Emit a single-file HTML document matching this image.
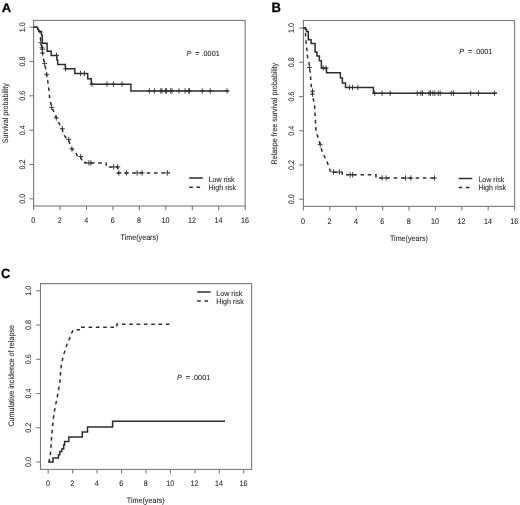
<!DOCTYPE html>
<html><head><meta charset="utf-8"><title>Survival curves</title>
<style>html,body{margin:0;padding:0;background:#fff;}svg{display:block;will-change:transform;}text{font-family:"Liberation Sans", sans-serif;text-rendering:geometricPrecision;}</style>
</head><body>
<svg width="520" height="505" viewBox="0 0 520 505" font-family='"Liberation Sans", sans-serif'>
<defs><filter id="bl" x="0" y="0" width="100%" height="100%"><feGaussianBlur stdDeviation="0.35"/></filter></defs>
<rect width="520" height="505" fill="#ffffff"/>
<g filter="url(#bl)">
<rect x="33.6" y="20.4" width="211.6" height="185.6" fill="none" stroke="#7a7a7a" stroke-width="1.1"/>
<line x1="33.6" y1="206" x2="33.6" y2="210.2" stroke="#7a7a7a" stroke-width="1.1"/>
<text font-size="8.0" text-anchor="middle" fill="#262626" stroke="#262626" stroke-width="0.08" transform="translate(33.3 223) scale(0.895 1)">0</text>
<line x1="60.05" y1="206" x2="60.05" y2="210.2" stroke="#7a7a7a" stroke-width="1.1"/>
<text font-size="8.0" text-anchor="middle" fill="#262626" stroke="#262626" stroke-width="0.08" transform="translate(59.75 223) scale(0.895 1)">2</text>
<line x1="86.5" y1="206" x2="86.5" y2="210.2" stroke="#7a7a7a" stroke-width="1.1"/>
<text font-size="8.0" text-anchor="middle" fill="#262626" stroke="#262626" stroke-width="0.08" transform="translate(86.2 223) scale(0.895 1)">4</text>
<line x1="112.95" y1="206" x2="112.95" y2="210.2" stroke="#7a7a7a" stroke-width="1.1"/>
<text font-size="8.0" text-anchor="middle" fill="#262626" stroke="#262626" stroke-width="0.08" transform="translate(112.65 223) scale(0.895 1)">6</text>
<line x1="139.4" y1="206" x2="139.4" y2="210.2" stroke="#7a7a7a" stroke-width="1.1"/>
<text font-size="8.0" text-anchor="middle" fill="#262626" stroke="#262626" stroke-width="0.08" transform="translate(139.1 223) scale(0.895 1)">8</text>
<line x1="165.85" y1="206" x2="165.85" y2="210.2" stroke="#7a7a7a" stroke-width="1.1"/>
<text font-size="8.0" text-anchor="middle" fill="#262626" stroke="#262626" stroke-width="0.08" transform="translate(165.55 223) scale(0.895 1)">10</text>
<line x1="192.3" y1="206" x2="192.3" y2="210.2" stroke="#7a7a7a" stroke-width="1.1"/>
<text font-size="8.0" text-anchor="middle" fill="#262626" stroke="#262626" stroke-width="0.08" transform="translate(192 223) scale(0.895 1)">12</text>
<line x1="218.75" y1="206" x2="218.75" y2="210.2" stroke="#7a7a7a" stroke-width="1.1"/>
<text font-size="8.0" text-anchor="middle" fill="#262626" stroke="#262626" stroke-width="0.08" transform="translate(218.45 223) scale(0.895 1)">14</text>
<line x1="245.2" y1="206" x2="245.2" y2="210.2" stroke="#7a7a7a" stroke-width="1.1"/>
<text font-size="8.0" text-anchor="middle" fill="#262626" stroke="#262626" stroke-width="0.08" transform="translate(244.9 223) scale(0.895 1)">16</text>
<line x1="29.4" y1="198.8" x2="33.6" y2="198.8" stroke="#7a7a7a" stroke-width="1.1"/>
<text font-size="8.0" text-anchor="middle" fill="#262626" stroke="#262626" stroke-width="0.08" transform="translate(25 198.8) rotate(-90) scale(0.895 1)">0.0</text>
<line x1="29.4" y1="164.48" x2="33.6" y2="164.48" stroke="#7a7a7a" stroke-width="1.1"/>
<text font-size="8.0" text-anchor="middle" fill="#262626" stroke="#262626" stroke-width="0.08" transform="translate(25 164.48) rotate(-90) scale(0.895 1)">0.2</text>
<line x1="29.4" y1="130.16" x2="33.6" y2="130.16" stroke="#7a7a7a" stroke-width="1.1"/>
<text font-size="8.0" text-anchor="middle" fill="#262626" stroke="#262626" stroke-width="0.08" transform="translate(25 130.16) rotate(-90) scale(0.895 1)">0.4</text>
<line x1="29.4" y1="95.84" x2="33.6" y2="95.84" stroke="#7a7a7a" stroke-width="1.1"/>
<text font-size="8.0" text-anchor="middle" fill="#262626" stroke="#262626" stroke-width="0.08" transform="translate(25 95.84) rotate(-90) scale(0.895 1)">0.6</text>
<line x1="29.4" y1="61.52" x2="33.6" y2="61.52" stroke="#7a7a7a" stroke-width="1.1"/>
<text font-size="8.0" text-anchor="middle" fill="#262626" stroke="#262626" stroke-width="0.08" transform="translate(25 61.52) rotate(-90) scale(0.895 1)">0.8</text>
<line x1="29.4" y1="27.2" x2="33.6" y2="27.2" stroke="#7a7a7a" stroke-width="1.1"/>
<text font-size="8.0" text-anchor="middle" fill="#262626" stroke="#262626" stroke-width="0.08" transform="translate(25 27.2) rotate(-90) scale(0.895 1)">1.0</text>
<text font-size="8.0" text-anchor="middle" fill="#262626" stroke="#262626" stroke-width="0.08" transform="translate(8 113.2) rotate(-90) scale(0.895 1)">Survival probability</text>
<text font-size="8.0" text-anchor="middle" fill="#262626" stroke="#262626" stroke-width="0.08" transform="translate(139.5 239.9) scale(0.895 1)">Time(years)</text>
<polyline points="33.6,27.2 37.6,27.2 37.6,29.2 38.6,29.2 38.6,31.4 41.5,31.4 41.5,35.3 42.3,35.3 42.3,43.2 47.1,43.2 47.1,51.3 51.2,51.3 51.2,55.4 56.9,55.4 56.9,60 57.7,60 57.7,64.4 65.4,64.4 65.4,68.8 74.8,68.8 74.8,73.5 87.7,73.5 87.7,78.8 91.2,78.8 91.2,84.2 130.9,84.2 130.9,90.9 228.8,90.9" fill="none" stroke="#2e2e2e" stroke-width="1.5" stroke-linejoin="miter" stroke-linecap="butt"/>
<path d="M56.5 52.7V58.1M54 55.4H59" stroke="#2e2e2e" stroke-width="0.9" fill="none"/>
<path d="M65.6 66.1V71.5M63.1 68.8H68.1" stroke="#2e2e2e" stroke-width="0.9" fill="none"/>
<path d="M80.6 70.8V76.2M78.1 73.5H83.1" stroke="#2e2e2e" stroke-width="0.9" fill="none"/>
<path d="M84.4 70.8V76.2M81.9 73.5H86.9" stroke="#2e2e2e" stroke-width="0.9" fill="none"/>
<path d="M92 81.5V86.9M89.5 84.2H94.5" stroke="#2e2e2e" stroke-width="0.9" fill="none"/>
<path d="M106.9 81.5V86.9M104.4 84.2H109.4" stroke="#2e2e2e" stroke-width="0.9" fill="none"/>
<path d="M113.5 81.5V86.9M111 84.2H116" stroke="#2e2e2e" stroke-width="0.9" fill="none"/>
<path d="M122 81.5V86.9M119.5 84.2H124.5" stroke="#2e2e2e" stroke-width="0.9" fill="none"/>
<path d="M149.3 88.2V93.6M146.8 90.9H151.8" stroke="#2e2e2e" stroke-width="0.9" fill="none"/>
<path d="M154.4 88.2V93.6M151.9 90.9H156.9" stroke="#2e2e2e" stroke-width="0.9" fill="none"/>
<path d="M160.8 88.2V93.6M158.3 90.9H163.3" stroke="#2e2e2e" stroke-width="0.9" fill="none"/>
<path d="M162 88.2V93.6M159.5 90.9H164.5" stroke="#2e2e2e" stroke-width="0.9" fill="none"/>
<path d="M165.4 88.2V93.6M162.9 90.9H167.9" stroke="#2e2e2e" stroke-width="0.9" fill="none"/>
<path d="M166.5 88.2V93.6M164 90.9H169" stroke="#2e2e2e" stroke-width="0.9" fill="none"/>
<path d="M170.6 88.2V93.6M168.1 90.9H173.1" stroke="#2e2e2e" stroke-width="0.9" fill="none"/>
<path d="M172 88.2V93.6M169.5 90.9H174.5" stroke="#2e2e2e" stroke-width="0.9" fill="none"/>
<path d="M179 88.2V93.6M176.5 90.9H181.5" stroke="#2e2e2e" stroke-width="0.9" fill="none"/>
<path d="M185.1 88.2V93.6M182.6 90.9H187.6" stroke="#2e2e2e" stroke-width="0.9" fill="none"/>
<path d="M188.7 88.2V93.6M186.2 90.9H191.2" stroke="#2e2e2e" stroke-width="0.9" fill="none"/>
<path d="M189.5 88.2V93.6M187 90.9H192" stroke="#2e2e2e" stroke-width="0.9" fill="none"/>
<path d="M202.2 88.2V93.6M199.7 90.9H204.7" stroke="#2e2e2e" stroke-width="0.9" fill="none"/>
<path d="M210.2 88.2V93.6M207.7 90.9H212.7" stroke="#2e2e2e" stroke-width="0.9" fill="none"/>
<path d="M227 88.2V93.6M224.5 90.9H229.5" stroke="#2e2e2e" stroke-width="0.9" fill="none"/>
<polyline points="33.6,27.2 37.6,27.2 38.3,29.5 40,31.3 40.4,36 40.8,42.7 42.1,47.8 42.5,53 43.3,57.8 44.3,63.6 45.5,67.5 46.7,74.7 47.6,80 48.4,86 49.2,92 49.6,98 50.5,102 51.7,107.4 53.4,110.8 56.3,117.8 57.8,120.7 59.8,124.7 62.3,128.7 62.9,132 64.3,135.6 66.3,137.9 68.7,139.5 69.5,143 71.9,149 74.6,151.4 76.5,154 77.5,156.5 80.7,156.8 81.6,159.6 84.5,160.1 84.9,162.9 106.2,162.9 106.2,166.9 117.7,166.9 117.7,172.9 169.8,172.9" fill="none" stroke="#2e2e2e" stroke-width="1.5" stroke-dasharray="3.6 3.7" stroke-linejoin="miter" stroke-linecap="butt"/>
<path d="M40.8 40V45.4M38.3 42.7H43.3" stroke="#2e2e2e" stroke-width="0.9" fill="none"/>
<path d="M42.1 45.1V50.5M39.6 47.8H44.6" stroke="#2e2e2e" stroke-width="0.9" fill="none"/>
<path d="M42.5 46.5V51.9M40 49.2H45" stroke="#2e2e2e" stroke-width="0.9" fill="none"/>
<path d="M42.4 50.3V55.7M39.9 53H44.9" stroke="#2e2e2e" stroke-width="0.9" fill="none"/>
<path d="M44.6 60.9V66.3M42.1 63.6H47.1" stroke="#2e2e2e" stroke-width="0.9" fill="none"/>
<path d="M46.7 72V77.4M44.2 74.7H49.2" stroke="#2e2e2e" stroke-width="0.9" fill="none"/>
<path d="M51.7 104.7V110.1M49.2 107.4H54.2" stroke="#2e2e2e" stroke-width="0.9" fill="none"/>
<path d="M56.3 115.1V120.5M53.8 117.8H58.8" stroke="#2e2e2e" stroke-width="0.9" fill="none"/>
<path d="M62.3 126V131.4M59.8 128.7H64.8" stroke="#2e2e2e" stroke-width="0.9" fill="none"/>
<path d="M68.7 136.8V142.2M66.2 139.5H71.2" stroke="#2e2e2e" stroke-width="0.9" fill="none"/>
<path d="M71.9 146.3V151.7M69.4 149H74.4" stroke="#2e2e2e" stroke-width="0.9" fill="none"/>
<path d="M80.7 153.8V159.2M78.2 156.5H83.2" stroke="#2e2e2e" stroke-width="0.9" fill="none"/>
<path d="M88.9 160.2V165.6M86.4 162.9H91.4" stroke="#2e2e2e" stroke-width="0.9" fill="none"/>
<path d="M90.9 160.2V165.6M88.4 162.9H93.4" stroke="#2e2e2e" stroke-width="0.9" fill="none"/>
<path d="M113.7 164.2V169.6M111.2 166.9H116.2" stroke="#2e2e2e" stroke-width="0.9" fill="none"/>
<path d="M117.7 164.2V169.6M115.2 166.9H120.2" stroke="#2e2e2e" stroke-width="0.9" fill="none"/>
<path d="M118.8 170.2V175.6M116.3 172.9H121.3" stroke="#2e2e2e" stroke-width="0.9" fill="none"/>
<path d="M126.5 170.2V175.6M124 172.9H129" stroke="#2e2e2e" stroke-width="0.9" fill="none"/>
<path d="M137.1 170.2V175.6M134.6 172.9H139.6" stroke="#2e2e2e" stroke-width="0.9" fill="none"/>
<path d="M142.1 170.2V175.6M139.6 172.9H144.6" stroke="#2e2e2e" stroke-width="0.9" fill="none"/>
<path d="M167.4 170.2V175.6M164.9 172.9H169.9" stroke="#2e2e2e" stroke-width="0.9" fill="none"/>
<polyline points="189.2,178 202.8,178" fill="none" stroke="#2e2e2e" stroke-width="1.5" stroke-linejoin="miter" stroke-linecap="butt"/>
<polyline points="189.2,187.2 202.8,187.2" fill="none" stroke="#2e2e2e" stroke-width="1.5" stroke-dasharray="3.6 3.7" stroke-linejoin="miter" stroke-linecap="butt"/>
<text font-size="7.5" text-anchor="start" fill="#262626" stroke="#262626" stroke-width="0.08" transform="translate(208.6 181.5) scale(0.945 1)">Low risk</text>
<text font-size="7.5" text-anchor="start" fill="#262626" stroke="#262626" stroke-width="0.08" transform="translate(208.6 189.8) scale(0.945 1)">High risk</text>
<text font-size="7.45" fill="#262626" stroke="#262626" stroke-width="0.08" transform="translate(186.5 55.6) scale(0.975 1)"><tspan font-style="italic">P</tspan><tspan dx="2.0"> = .0001</tspan></text>
<text font-size="12.4" font-weight="bold" fill="#000" stroke="#000" stroke-width="0.25" transform="translate(1.8 11.8) scale(1.06 1)">A</text>
<rect x="303.4" y="20.5" width="211.2" height="185.9" fill="none" stroke="#7a7a7a" stroke-width="1.1"/>
<line x1="303.4" y1="206.4" x2="303.4" y2="210.6" stroke="#7a7a7a" stroke-width="1.1"/>
<text font-size="8.0" text-anchor="middle" fill="#262626" stroke="#262626" stroke-width="0.08" transform="translate(303.1 223.7) scale(0.895 1)">0</text>
<line x1="329.8" y1="206.4" x2="329.8" y2="210.6" stroke="#7a7a7a" stroke-width="1.1"/>
<text font-size="8.0" text-anchor="middle" fill="#262626" stroke="#262626" stroke-width="0.08" transform="translate(329.5 223.7) scale(0.895 1)">2</text>
<line x1="356.2" y1="206.4" x2="356.2" y2="210.6" stroke="#7a7a7a" stroke-width="1.1"/>
<text font-size="8.0" text-anchor="middle" fill="#262626" stroke="#262626" stroke-width="0.08" transform="translate(355.9 223.7) scale(0.895 1)">4</text>
<line x1="382.6" y1="206.4" x2="382.6" y2="210.6" stroke="#7a7a7a" stroke-width="1.1"/>
<text font-size="8.0" text-anchor="middle" fill="#262626" stroke="#262626" stroke-width="0.08" transform="translate(382.3 223.7) scale(0.895 1)">6</text>
<line x1="409" y1="206.4" x2="409" y2="210.6" stroke="#7a7a7a" stroke-width="1.1"/>
<text font-size="8.0" text-anchor="middle" fill="#262626" stroke="#262626" stroke-width="0.08" transform="translate(408.7 223.7) scale(0.895 1)">8</text>
<line x1="435.4" y1="206.4" x2="435.4" y2="210.6" stroke="#7a7a7a" stroke-width="1.1"/>
<text font-size="8.0" text-anchor="middle" fill="#262626" stroke="#262626" stroke-width="0.08" transform="translate(435.1 223.7) scale(0.895 1)">10</text>
<line x1="461.8" y1="206.4" x2="461.8" y2="210.6" stroke="#7a7a7a" stroke-width="1.1"/>
<text font-size="8.0" text-anchor="middle" fill="#262626" stroke="#262626" stroke-width="0.08" transform="translate(461.5 223.7) scale(0.895 1)">12</text>
<line x1="488.2" y1="206.4" x2="488.2" y2="210.6" stroke="#7a7a7a" stroke-width="1.1"/>
<text font-size="8.0" text-anchor="middle" fill="#262626" stroke="#262626" stroke-width="0.08" transform="translate(487.9 223.7) scale(0.895 1)">14</text>
<line x1="514.6" y1="206.4" x2="514.6" y2="210.6" stroke="#7a7a7a" stroke-width="1.1"/>
<text font-size="8.0" text-anchor="middle" fill="#262626" stroke="#262626" stroke-width="0.08" transform="translate(514.3 223.7) scale(0.895 1)">16</text>
<line x1="299.2" y1="199.2" x2="303.4" y2="199.2" stroke="#7a7a7a" stroke-width="1.1"/>
<text font-size="8.0" text-anchor="middle" fill="#262626" stroke="#262626" stroke-width="0.08" transform="translate(294.3 199.2) rotate(-90) scale(0.895 1)">0.0</text>
<line x1="299.2" y1="164.98" x2="303.4" y2="164.98" stroke="#7a7a7a" stroke-width="1.1"/>
<text font-size="8.0" text-anchor="middle" fill="#262626" stroke="#262626" stroke-width="0.08" transform="translate(294.3 164.98) rotate(-90) scale(0.895 1)">0.2</text>
<line x1="299.2" y1="130.76" x2="303.4" y2="130.76" stroke="#7a7a7a" stroke-width="1.1"/>
<text font-size="8.0" text-anchor="middle" fill="#262626" stroke="#262626" stroke-width="0.08" transform="translate(294.3 130.76) rotate(-90) scale(0.895 1)">0.4</text>
<line x1="299.2" y1="96.54" x2="303.4" y2="96.54" stroke="#7a7a7a" stroke-width="1.1"/>
<text font-size="8.0" text-anchor="middle" fill="#262626" stroke="#262626" stroke-width="0.08" transform="translate(294.3 96.54) rotate(-90) scale(0.895 1)">0.6</text>
<line x1="299.2" y1="62.32" x2="303.4" y2="62.32" stroke="#7a7a7a" stroke-width="1.1"/>
<text font-size="8.0" text-anchor="middle" fill="#262626" stroke="#262626" stroke-width="0.08" transform="translate(294.3 62.32) rotate(-90) scale(0.895 1)">0.8</text>
<line x1="299.2" y1="28.1" x2="303.4" y2="28.1" stroke="#7a7a7a" stroke-width="1.1"/>
<text font-size="8.0" text-anchor="middle" fill="#262626" stroke="#262626" stroke-width="0.08" transform="translate(294.3 28.1) rotate(-90) scale(0.895 1)">1.0</text>
<text font-size="8.0" text-anchor="middle" fill="#262626" stroke="#262626" stroke-width="0.08" transform="translate(277.4 113.7) rotate(-90) scale(0.895 1)">Relaspe free survival probability</text>
<text font-size="8.0" text-anchor="middle" fill="#262626" stroke="#262626" stroke-width="0.08" transform="translate(408.9 240.5) scale(0.895 1)">Time(years)</text>
<polyline points="303.4,27.7 305.5,27.7 305.5,29.6 306.5,29.6 306.5,31.5 308.3,31.5 308.3,39.8 311.1,39.8 311.1,43.6 315.1,43.6 315.1,52 317,52 317,56.1 319.4,56.1 319.4,60.8 321.4,60.8 321.4,68.1 326.5,68.1 326.5,72.8 340.4,72.8 340.4,78 342.4,78 342.4,83.1 345.5,83.1 345.5,87.5 373.4,87.5 373.4,93.2 497,93.2" fill="none" stroke="#2e2e2e" stroke-width="1.5" stroke-linejoin="miter" stroke-linecap="butt"/>
<path d="M323.2 65.4V70.8M320.7 68.1H325.7" stroke="#2e2e2e" stroke-width="0.9" fill="none"/>
<path d="M326.1 65.4V70.8M323.6 68.1H328.6" stroke="#2e2e2e" stroke-width="0.9" fill="none"/>
<path d="M349.5 84.8V90.2M347 87.5H352" stroke="#2e2e2e" stroke-width="0.9" fill="none"/>
<path d="M352.5 84.8V90.2M350 87.5H355" stroke="#2e2e2e" stroke-width="0.9" fill="none"/>
<path d="M357.9 84.8V90.2M355.4 87.5H360.4" stroke="#2e2e2e" stroke-width="0.9" fill="none"/>
<path d="M374.7 90.5V95.9M372.2 93.2H377.2" stroke="#2e2e2e" stroke-width="0.9" fill="none"/>
<path d="M382.1 90.5V95.9M379.6 93.2H384.6" stroke="#2e2e2e" stroke-width="0.9" fill="none"/>
<path d="M390.2 90.5V95.9M387.7 93.2H392.7" stroke="#2e2e2e" stroke-width="0.9" fill="none"/>
<path d="M417.3 90.5V95.9M414.8 93.2H419.8" stroke="#2e2e2e" stroke-width="0.9" fill="none"/>
<path d="M420.9 90.5V95.9M418.4 93.2H423.4" stroke="#2e2e2e" stroke-width="0.9" fill="none"/>
<path d="M422.5 90.5V95.9M420 93.2H425" stroke="#2e2e2e" stroke-width="0.9" fill="none"/>
<path d="M429 90.5V95.9M426.5 93.2H431.5" stroke="#2e2e2e" stroke-width="0.9" fill="none"/>
<path d="M430.5 90.5V95.9M428 93.2H433" stroke="#2e2e2e" stroke-width="0.9" fill="none"/>
<path d="M432.9 90.5V95.9M430.4 93.2H435.4" stroke="#2e2e2e" stroke-width="0.9" fill="none"/>
<path d="M434.8 90.5V95.9M432.3 93.2H437.3" stroke="#2e2e2e" stroke-width="0.9" fill="none"/>
<path d="M438.2 90.5V95.9M435.7 93.2H440.7" stroke="#2e2e2e" stroke-width="0.9" fill="none"/>
<path d="M440.2 90.5V95.9M437.7 93.2H442.7" stroke="#2e2e2e" stroke-width="0.9" fill="none"/>
<path d="M451.3 90.5V95.9M448.8 93.2H453.8" stroke="#2e2e2e" stroke-width="0.9" fill="none"/>
<path d="M453.5 90.5V95.9M451 93.2H456" stroke="#2e2e2e" stroke-width="0.9" fill="none"/>
<path d="M470.7 90.5V95.9M468.2 93.2H473.2" stroke="#2e2e2e" stroke-width="0.9" fill="none"/>
<path d="M478.4 90.5V95.9M475.9 93.2H480.9" stroke="#2e2e2e" stroke-width="0.9" fill="none"/>
<path d="M494.4 90.5V95.9M491.9 93.2H496.9" stroke="#2e2e2e" stroke-width="0.9" fill="none"/>
<polyline points="303.4,27.7 305.1,27.7 306.3,31.2 305.6,33.5 305.6,37 305.9,40.3 306.2,43.4 306.5,46.2 306.8,49 307.1,51.8 307.3,55.3 307.9,58.5 308.9,62.1 309.5,67.5 310.1,71.6 311.3,86 312.5,91.2 312.5,94.2 313.7,101.3 314.8,107.3 315,113.2 316.1,132.2 318.2,137.7 320.2,144.6 322.3,152.2 325.8,159.2 328.5,165.4 329.9,169.6 330.5,172.2 342.3,172.2 342.3,174.8 376,174.8 376,178.1 436.5,178.1" fill="none" stroke="#2e2e2e" stroke-width="1.5" stroke-dasharray="3.6 3.7" stroke-linejoin="miter" stroke-linecap="butt"/>
<path d="M309.5 64.8V70.2M307 67.5H312" stroke="#2e2e2e" stroke-width="0.9" fill="none"/>
<path d="M312.5 88.5V93.9M310 91.2H315" stroke="#2e2e2e" stroke-width="0.9" fill="none"/>
<path d="M312.5 91.5V96.9M310 94.2H315" stroke="#2e2e2e" stroke-width="0.9" fill="none"/>
<path d="M320.2 141.9V147.3M317.7 144.6H322.7" stroke="#2e2e2e" stroke-width="0.9" fill="none"/>
<path d="M333.5 169.3V174.7M331 172H336" stroke="#2e2e2e" stroke-width="0.9" fill="none"/>
<path d="M339.4 169.3V174.7M336.9 172H341.9" stroke="#2e2e2e" stroke-width="0.9" fill="none"/>
<path d="M350.2 172.1V177.5M347.7 174.8H352.7" stroke="#2e2e2e" stroke-width="0.9" fill="none"/>
<path d="M352.6 172.1V177.5M350.1 174.8H355.1" stroke="#2e2e2e" stroke-width="0.9" fill="none"/>
<path d="M382.1 175.3V180.7M379.6 178H384.6" stroke="#2e2e2e" stroke-width="0.9" fill="none"/>
<path d="M386.1 175.3V180.7M383.6 178H388.6" stroke="#2e2e2e" stroke-width="0.9" fill="none"/>
<path d="M405.5 175.3V180.7M403 178H408" stroke="#2e2e2e" stroke-width="0.9" fill="none"/>
<path d="M410.9 175.3V180.7M408.4 178H413.4" stroke="#2e2e2e" stroke-width="0.9" fill="none"/>
<path d="M434.5 175.3V180.7M432 178H437" stroke="#2e2e2e" stroke-width="0.9" fill="none"/>
<polyline points="458.6,178.5 472.2,178.5" fill="none" stroke="#2e2e2e" stroke-width="1.5" stroke-linejoin="miter" stroke-linecap="butt"/>
<polyline points="458.6,187.5 472.2,187.5" fill="none" stroke="#2e2e2e" stroke-width="1.5" stroke-dasharray="3.6 3.7" stroke-linejoin="miter" stroke-linecap="butt"/>
<text font-size="7.5" text-anchor="start" fill="#262626" stroke="#262626" stroke-width="0.08" transform="translate(478.4 182.3) scale(0.945 1)">Low risk</text>
<text font-size="7.5" text-anchor="start" fill="#262626" stroke="#262626" stroke-width="0.08" transform="translate(478.4 190.2) scale(0.945 1)">High risk</text>
<text font-size="7.45" fill="#262626" stroke="#262626" stroke-width="0.08" transform="translate(459.2 53.5) scale(0.975 1)"><tspan font-style="italic">P</tspan><tspan dx="2.0"> = .0001</tspan></text>
<text font-size="13.6" font-weight="bold" fill="#000" stroke="#000" stroke-width="0.25" transform="translate(271.6 11.9) scale(0.96 1)">B</text>
<rect x="40.5" y="283.6" width="211.1" height="185.8" fill="none" stroke="#7a7a7a" stroke-width="1.1"/>
<line x1="48.2" y1="469.4" x2="48.2" y2="473.6" stroke="#7a7a7a" stroke-width="1.1"/>
<text font-size="8.0" text-anchor="middle" fill="#262626" stroke="#262626" stroke-width="0.08" transform="translate(47.9 486) scale(0.895 1)">0</text>
<line x1="72.65" y1="469.4" x2="72.65" y2="473.6" stroke="#7a7a7a" stroke-width="1.1"/>
<text font-size="8.0" text-anchor="middle" fill="#262626" stroke="#262626" stroke-width="0.08" transform="translate(72.35 486) scale(0.895 1)">2</text>
<line x1="97.1" y1="469.4" x2="97.1" y2="473.6" stroke="#7a7a7a" stroke-width="1.1"/>
<text font-size="8.0" text-anchor="middle" fill="#262626" stroke="#262626" stroke-width="0.08" transform="translate(96.8 486) scale(0.895 1)">4</text>
<line x1="121.55" y1="469.4" x2="121.55" y2="473.6" stroke="#7a7a7a" stroke-width="1.1"/>
<text font-size="8.0" text-anchor="middle" fill="#262626" stroke="#262626" stroke-width="0.08" transform="translate(121.25 486) scale(0.895 1)">6</text>
<line x1="146" y1="469.4" x2="146" y2="473.6" stroke="#7a7a7a" stroke-width="1.1"/>
<text font-size="8.0" text-anchor="middle" fill="#262626" stroke="#262626" stroke-width="0.08" transform="translate(145.7 486) scale(0.895 1)">8</text>
<line x1="170.45" y1="469.4" x2="170.45" y2="473.6" stroke="#7a7a7a" stroke-width="1.1"/>
<text font-size="8.0" text-anchor="middle" fill="#262626" stroke="#262626" stroke-width="0.08" transform="translate(170.15 486) scale(0.895 1)">10</text>
<line x1="194.9" y1="469.4" x2="194.9" y2="473.6" stroke="#7a7a7a" stroke-width="1.1"/>
<text font-size="8.0" text-anchor="middle" fill="#262626" stroke="#262626" stroke-width="0.08" transform="translate(194.6 486) scale(0.895 1)">12</text>
<line x1="219.35" y1="469.4" x2="219.35" y2="473.6" stroke="#7a7a7a" stroke-width="1.1"/>
<text font-size="8.0" text-anchor="middle" fill="#262626" stroke="#262626" stroke-width="0.08" transform="translate(219.05 486) scale(0.895 1)">14</text>
<line x1="243.8" y1="469.4" x2="243.8" y2="473.6" stroke="#7a7a7a" stroke-width="1.1"/>
<text font-size="8.0" text-anchor="middle" fill="#262626" stroke="#262626" stroke-width="0.08" transform="translate(243.5 486) scale(0.895 1)">16</text>
<line x1="36.3" y1="462" x2="40.5" y2="462" stroke="#7a7a7a" stroke-width="1.1"/>
<text font-size="8.0" text-anchor="middle" fill="#262626" stroke="#262626" stroke-width="0.08" transform="translate(31.3 462) rotate(-90) scale(0.895 1)">0.0</text>
<line x1="36.3" y1="427.76" x2="40.5" y2="427.76" stroke="#7a7a7a" stroke-width="1.1"/>
<text font-size="8.0" text-anchor="middle" fill="#262626" stroke="#262626" stroke-width="0.08" transform="translate(31.3 427.76) rotate(-90) scale(0.895 1)">0.2</text>
<line x1="36.3" y1="393.52" x2="40.5" y2="393.52" stroke="#7a7a7a" stroke-width="1.1"/>
<text font-size="8.0" text-anchor="middle" fill="#262626" stroke="#262626" stroke-width="0.08" transform="translate(31.3 393.52) rotate(-90) scale(0.895 1)">0.4</text>
<line x1="36.3" y1="359.28" x2="40.5" y2="359.28" stroke="#7a7a7a" stroke-width="1.1"/>
<text font-size="8.0" text-anchor="middle" fill="#262626" stroke="#262626" stroke-width="0.08" transform="translate(31.3 359.28) rotate(-90) scale(0.895 1)">0.6</text>
<line x1="36.3" y1="325.04" x2="40.5" y2="325.04" stroke="#7a7a7a" stroke-width="1.1"/>
<text font-size="8.0" text-anchor="middle" fill="#262626" stroke="#262626" stroke-width="0.08" transform="translate(31.3 325.04) rotate(-90) scale(0.895 1)">0.8</text>
<line x1="36.3" y1="290.8" x2="40.5" y2="290.8" stroke="#7a7a7a" stroke-width="1.1"/>
<text font-size="8.0" text-anchor="middle" fill="#262626" stroke="#262626" stroke-width="0.08" transform="translate(31.3 290.8) rotate(-90) scale(0.895 1)">1.0</text>
<text font-size="8.0" text-anchor="middle" fill="#262626" stroke="#262626" stroke-width="0.08" transform="translate(14 375.8) rotate(-90) scale(0.895 1)">Cumulative incidence of relapse</text>
<text font-size="8.0" text-anchor="middle" fill="#262626" stroke="#262626" stroke-width="0.08" transform="translate(145.8 503.3) scale(0.895 1)">Time(years)</text>
<polyline points="48.4,462 53,462 53,458 58.5,458 58.5,454.7 59.8,454.7 59.8,451.5 61.7,451.5 61.7,449 63.7,449 63.7,445 64.6,445 64.6,441.4 68.8,441.4 68.8,437.1 82.3,437.1 82.3,431.9 87.5,431.9 87.5,427.1 112.6,427.1 112.6,421.2 225,421.2" fill="none" stroke="#2e2e2e" stroke-width="1.5" stroke-linejoin="miter" stroke-linecap="butt"/>
<polyline points="48.4,462 49,461.6 49.7,458 50.3,455.5 51,446 51.6,436.5 52.5,427 53.5,417.5 55,408 56.9,398.5 58.6,390 60.1,380 60.6,372.4 61.3,365.2 63.3,355.7 65.7,348.6 67.5,342.6 69.9,337.9 71.6,333.1 73.4,329.8 81.6,329.8 81.6,327.3 116.9,327.3 116.9,324.2 170.4,324.2" fill="none" stroke="#2e2e2e" stroke-width="1.5" stroke-dasharray="3.6 3.7" stroke-linejoin="miter" stroke-linecap="butt"/>
<polyline points="197.2,292 210.6,292" fill="none" stroke="#2e2e2e" stroke-width="1.5" stroke-linejoin="miter" stroke-linecap="butt"/>
<polyline points="197.2,300.9 210.6,300.9" fill="none" stroke="#2e2e2e" stroke-width="1.5" stroke-dasharray="3.6 3.7" stroke-linejoin="miter" stroke-linecap="butt"/>
<text font-size="7.5" text-anchor="start" fill="#262626" stroke="#262626" stroke-width="0.08" transform="translate(216.3 295.9) scale(0.945 1)">Low risk</text>
<text font-size="7.5" text-anchor="start" fill="#262626" stroke="#262626" stroke-width="0.08" transform="translate(216.3 303.9) scale(0.945 1)">High risk</text>
<text font-size="7.45" fill="#262626" stroke="#262626" stroke-width="0.08" transform="translate(177 379.5) scale(0.975 1)"><tspan font-style="italic">P</tspan><tspan dx="2.0"> = .0001</tspan></text>
<text font-size="13.4" font-weight="bold" fill="#000" stroke="#000" stroke-width="0.25" transform="translate(0.9 278.2) scale(0.96 1)">C</text>
</g>
</svg>
</body></html>
